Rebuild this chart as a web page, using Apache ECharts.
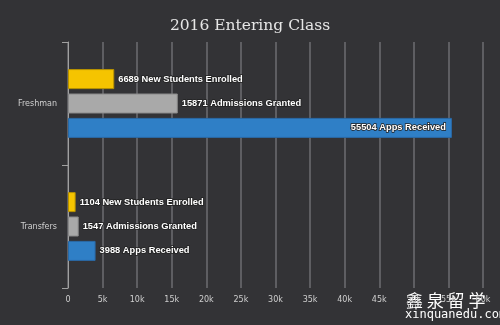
<!DOCTYPE html>
<html><head><meta charset="utf-8">
<script src="https://cdn.jsdelivr.net/npm/echarts@6/dist/echarts.min.js"></script>
<style>html,body{margin:0;padding:0;background:#333336;}#c{width:500px;height:325px;}</style>
</head><body><div id="c"></div>
<script>
const categories = ['Freshman', 'Transfers'];
const enrolled = [6689, 1104];
const admitted = [15871, 1547];
const applied = [55504, 3988];
const xTicks = [0, 5000, 10000, 15000, 20000, 25000, 30000, 35000, 40000, 45000, 50000, 55000, 60000];

const chart = echarts.init(document.getElementById('c'));
const labelBase = {
  show: true, position: 'right', distance: 4,
  color: '#ffffff', fontSize: 9.3, fontWeight: 'bold', fontFamily: 'Liberation Sans',
  textBorderColor: '#222', textBorderWidth: 1.5
};
function mk(name, data, color, border, suffix, insideIdx) {
  return {
    name, type: 'bar', data: data.map((v, i) => ({
      value: v,
      label: i === insideIdx ? {position: 'insideRight', distance: 6} : undefined
    })),
    barWidth: 20, barGap: '22%',
    itemStyle: {color, borderColor: border, borderWidth: 1},
    label: Object.assign({}, labelBase, {formatter: p => p.value + ' ' + suffix})
  };
}
chart.setOption({
  backgroundColor: '#333336',
  animation: false,
  title: {text: '2016 Entering Class', left: 'center', top: 13,
    textStyle: {color: '#e6e6e6', fontSize: 15.5, fontWeight: 'normal', fontFamily: 'DejaVu Serif'}},
  grid: {left: 68, right: 17, top: 42, bottom: 37},
  xAxis: {type: 'value', min: 0, max: 60000, interval: 5000,
    axisLine: {show: false}, axisTick: {show: false},
    splitLine: {lineStyle: {color: '#6e6e72', width: 1.5}},
    axisLabel: {color: '#cfcfcf', fontSize: 8, fontFamily: 'DejaVu Sans', margin: 8,
      formatter: v => xTicks.indexOf(v) >= 0 ? (v === 0 ? '0' : (v / 1000) + 'k') : ''}},
  yAxis: {type: 'category', data: categories, inverse: true,
    axisLine: {lineStyle: {color: '#a0a0a0'}},
    axisTick: {show: true, length: 6, lineStyle: {color: '#a0a0a0'}},
    axisLabel: {color: '#d0d0d0', fontSize: 8, fontFamily: 'DejaVu Sans', margin: 11}},
  series: [
    mk('New Students Enrolled', enrolled, '#f5c400', '#b89200', 'New Students Enrolled', -1),
    mk('Admissions Granted', admitted, '#a9a9a9', '#8a8a8a', 'Admissions Granted', -1),
    mk('Apps Received', applied, '#2f7fc6', '#2a6aa6', 'Apps Received', 0)
  ],
  graphic: [
    {type: 'text', left: 406, top: 292, style: {text: '鑫 泉 留 学', fill: '#ffffff', font: '17px "Noto Sans CJK SC"'}},
    {type: 'text', left: 405, top: 309, style: {text: 'xinquanedu.com', fill: '#ffffff', font: '12px "DejaVu Sans Mono"'}}
  ]
});
</script></body></html>
